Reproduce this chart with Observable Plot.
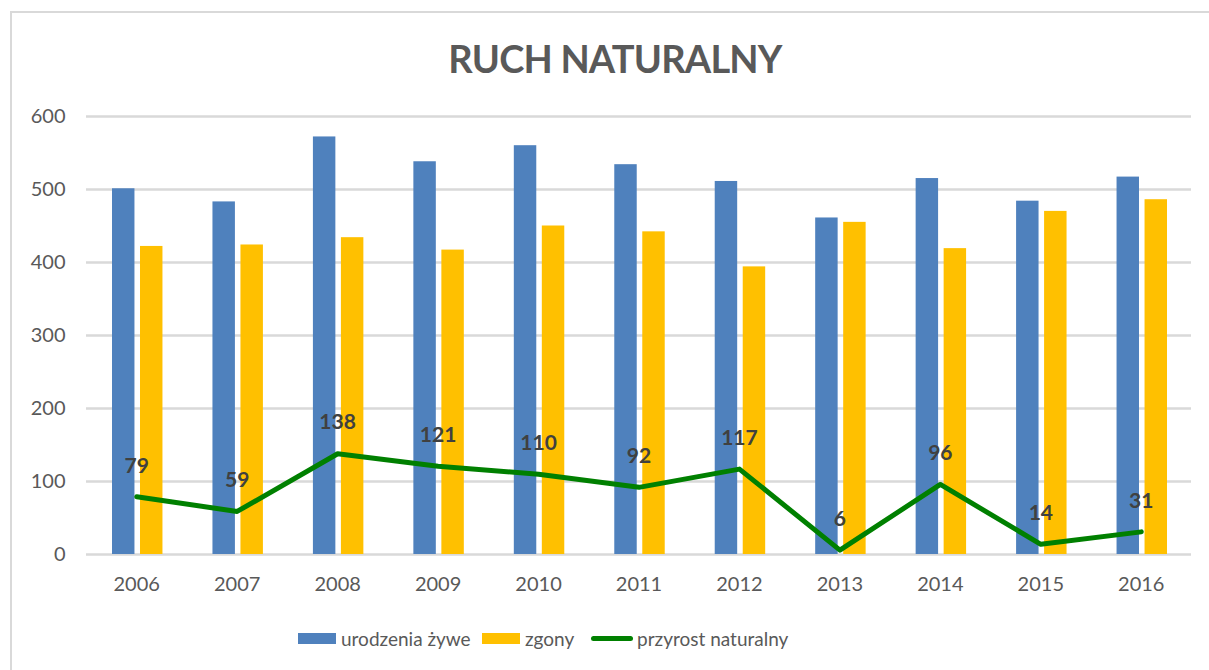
<!DOCTYPE html>
<html>
<head>
<meta charset="utf-8">
<script src="https://cdn.jsdelivr.net/npm/d3@7"></script>
<script src="https://cdn.jsdelivr.net/npm/@observablehq/plot@0.6"></script>
<style>
  html, body { margin: 0; padding: 0; background: #fff; overflow: hidden; width: 1209px; height: 670px; }
  #wrap { position: relative; width: 1209px; height: 670px; overflow: hidden; font-family: Lato, "Noto Sans", sans-serif; }
  #frame { position: absolute; left: 10px; top: 11px; width: 1199px; height: 659px; border-top: 2px solid #d9d9d9; border-left: 2px solid #d9d9d9; border-right: none; border-bottom: none; box-sizing: border-box; pointer-events: none; }
  #title { position: absolute; left: 10px; width: 1210px; top: 39px; text-align: center; font-size: 38px; line-height: 38px; font-weight: bold; color: #595959; letter-spacing: -0.8px; }
  #chart { position: absolute; left: 0; top: 90px; }
  #legend { position: absolute; left: 0; top: 625px; width: 1209px; height: 26px; }
  .item { position: absolute; top: 0; height: 26px; display: flex; align-items: center; font-size: 19px; color: #595959; white-space: nowrap; }
  .sw { width: 38px; height: 11px; margin-right: 5px; }
  .ln { width: 42px; height: 5px; border-radius: 3px; margin-right: 4px; }
</style>
</head>
<body>
<div id="wrap">
  <div id="title">RUCH NATURALNY</div>
  <div id="chart"></div>
  <div id="legend"></div>
  <div id="frame"></div>
</div>
<script>
const years = ["2006","2007","2008","2009","2010","2011","2012","2013","2014","2015","2016"];
const births = [501, 483, 572, 538, 560, 534, 511, 461, 515, 484, 517];
const deaths = [422, 424, 434, 417, 450, 442, 394, 455, 419, 470, 486];
const increase = [79, 59, 138, 121, 110, 92, 117, 6, 96, 14, 31];
const seriesNames = ["urodzenia żywe", "zgony", "przyrost naturalny"];
const seriesColors = ["#4f81bd", "#ffc000", "#008000"];
const yTicks = [0, 100, 200, 300, 400, 500, 600];

const data = years.map((year, i) => ({year, births: births[i], deaths: deaths[i], inc: increase[i]}));

const chart = Plot.plot({
  width: 1209,
  height: 520,
  marginTop: 26,
  marginBottom: 56,
  marginLeft: 86,
  marginRight: 18,
  style: {fontFamily: "Lato, 'Noto Sans', sans-serif", fontSize: "20px", color: "#595959", background: "transparent", overflow: "visible"},
  x: {type: "band", domain: years, padding: 0, round: false, label: null, tickSize: 0, tickPadding: 22},
  y: {domain: [0, 600], ticks: yTicks, label: null, tickSize: 0, tickPadding: 21},
  marks: [
    Plot.ruleY(yTicks, {stroke: "#d9d9d9", strokeWidth: 2.5}),
    Plot.barY(data, {x: "year", y: "births", fill: seriesColors[0], insetLeft: 26, insetRight: 52}),
    Plot.barY(data, {x: "year", y: "deaths", fill: seriesColors[1], insetLeft: 54, insetRight: 24}),
    Plot.line(data, {x: "year", y: "inc", stroke: seriesColors[2], strokeWidth: 5, strokeLinejoin: "round", strokeLinecap: "round"}),
    Plot.text(data, {x: "year", y: "inc", text: d => String(d.inc), dy: -31, fill: "#404040", fontWeight: "bold", fontSize: 21})
  ]
});
document.getElementById("chart").appendChild(chart);

const legend = document.getElementById("legend");
const lefts = [298, 482, 591];
seriesNames.forEach((name, i) => {
  const it = document.createElement("div");
  it.className = "item";
  it.style.left = lefts[i] + "px";
  const sw = document.createElement("div");
  sw.className = i === 2 ? "ln" : "sw";
  sw.style.background = seriesColors[i];
  it.appendChild(sw);
  const t = document.createElement("span");
  t.textContent = name;
  it.appendChild(t);
  legend.appendChild(it);
});
</script>
</body>
</html>
